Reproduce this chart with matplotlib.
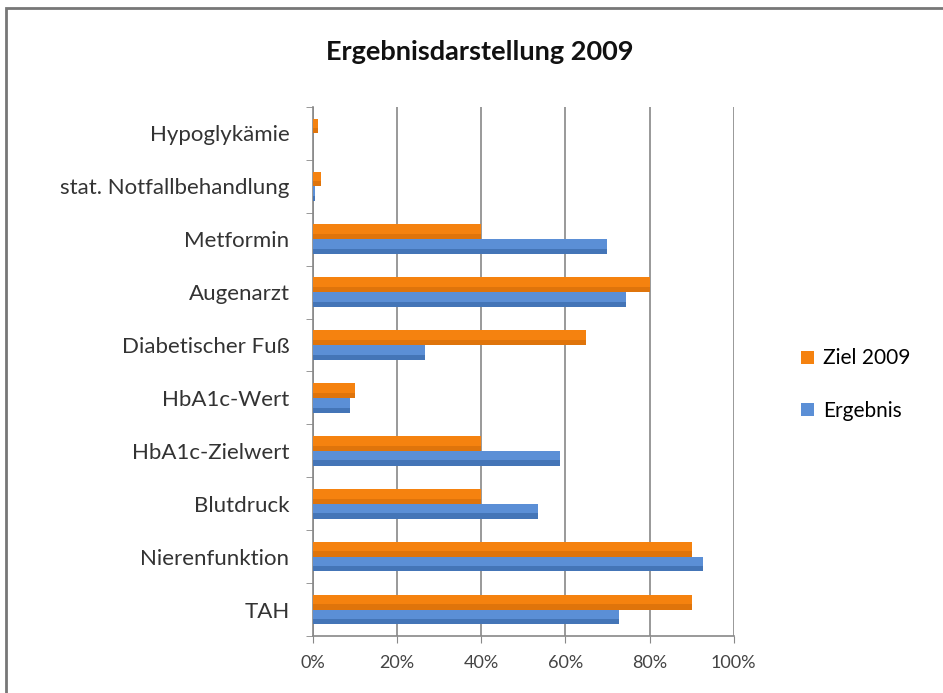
import matplotlib
matplotlib.use("Agg")
import matplotlib.pyplot as plt
from matplotlib.ticker import FixedLocator, PercentFormatter
from matplotlib.patches import Rectangle

categories = ["TAH", "Nierenfunktion", "Blutdruck", "HbA1c-Zielwert", "HbA1c-Wert",
              "Diabetischer Fuß", "Augenarzt", "Metformin", "stat. Notfallbehandlung",
              "Hypoglykämie"]
ziel_2009 = [90, 90, 40, 40, 10, 65, 80, 40, 2, 1.1]
ergebnis = [72.8, 92.6, 53.4, 58.6, 8.7, 26.7, 74.3, 69.9, 0.4, 0]
x_ticks = [0, 20, 40, 60, 80, 100]

plt.rcParams['font.family'] = ['Lato', 'DejaVu Sans']

fig = plt.figure(figsize=(9.43, 6.93), dpi=100)
ax = fig.add_axes([0.332, 0.0823, 0.446, 0.7633])

orange, orange_dark = "#F5820F", "#B85A06"
blue, blue_dark = "#5B8FD6", "#2F5C9A"
h = 0.28
pos = list(range(len(categories)))

# main bars, then a darker strip at the bottom for the excel 3d look
ax.barh([p + h / 2 for p in pos], ziel_2009, height=h, color=orange, label="Ziel 2009", zorder=3)
ax.barh([p - h / 2 for p in pos], ergebnis, height=h, color=blue, label="Ergebnis", zorder=3)
ax.barh([p + h * 0.175 for p in pos], ziel_2009, height=h * 0.35, color=orange_dark, alpha=0.35, zorder=4)
ax.barh([p - h * 0.825 for p in pos], ergebnis, height=h * 0.35, color=blue_dark, alpha=0.5, zorder=4)

ax.set_xlim(0, 100)
ax.set_ylim(-0.5, len(categories) - 0.5)
ax.set_xticks(x_ticks)
ax.xaxis.set_major_formatter(PercentFormatter(decimals=0))
ax.set_yticks(pos)
ax.set_yticklabels(categories)
ax.yaxis.set_minor_locator(FixedLocator([p - 0.5 for p in pos] + [len(pos) - 0.5]))
ax.tick_params(axis='y', which='major', length=0, pad=17, labelsize=16, labelcolor="#333333")
ax.tick_params(axis='y', which='minor', length=5, color="#888888")
ax.tick_params(axis='x', length=5, color="#888888", labelsize=13, labelcolor="#444444", pad=9)

ax.grid(axis='x', color="#888888", linewidth=1.2, zorder=0)
for s in ['top', 'right']:
    ax.spines[s].set_visible(False)
for s in ['left', 'bottom']:
    ax.spines[s].set_color("#888888")
    ax.spines[s].set_linewidth(1.2)

fig.text(0.509, 0.925, "Ergebnisdarstellung 2009", ha='center', va='center',
         fontsize=19.5, fontweight='bold', color="#111111")

handles, labels = ax.get_legend_handles_labels()
fig.legend(handles, labels, loc='center left', bbox_to_anchor=(0.83, 0.445),
           frameon=False, fontsize=15, handlelength=0.6, handleheight=0.6,
           labelspacing=1.55, handletextpad=0.45)

# chart frame (top and left edge visible)
fig.patches.append(Rectangle((0.006, -0.01), 1.2, 0.998, transform=fig.transFigure,
                             fill=False, edgecolor="#777777", linewidth=2))

fig.savefig("out.png", dpi=100, facecolor="white")
